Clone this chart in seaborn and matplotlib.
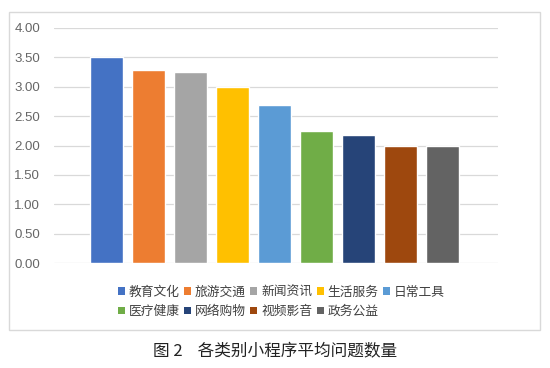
import matplotlib
matplotlib.use("Agg")
import matplotlib.pyplot as plt
from matplotlib.patches import Patch, Rectangle
import seaborn as sns

# ─────────────────────────────────────────────
# DATI
# ─────────────────────────────────────────────
categorie = ["教育文化", "旅游交通", "新闻资讯", "生活服务", "日常工具",
             "医疗健康", "网络购物", "视频影音", "政务公益"]
valori = [3.50, 3.28, 3.25, 3.00, 2.69, 2.25, 2.18, 2.00, 2.00]
colori = ["#4472C4", "#ED7D31", "#A5A5A5", "#FFC000", "#5B9BD5",
          "#70AD47", "#264478", "#9E480E", "#636363"]
yticks = [0.0, 0.5, 1.0, 1.5, 2.0, 2.5, 3.0, 3.5, 4.0]
titolo = "图 2    各类别小程序平均问题数量"

sns.set_theme(style="white")
plt.rcParams["font.family"] = ["Noto Sans CJK SC", "DejaVu Sans"]

fig = plt.figure(figsize=(5.5, 3.68), dpi=100)
ax = fig.add_axes([0.098, 0.285, 0.807, 0.639])

sns.barplot(x=categorie, y=valori, hue=categorie, palette=colori,
            width=0.79, saturation=1, legend=False, ax=ax, zorder=3)

ax.set_xlim(-1.26, 9.31)
ax.set_ylim(0, 4)
ax.set_yticks(yticks)
ax.set_yticklabels([f"{v:.2f}" for v in yticks], fontsize=9.5, color="#666666",
                   family="Liberation Sans")
ax.set_xticks([])
ax.tick_params(axis="y", length=0, pad=10)
ax.grid(axis="y", color="#D9D9D9", linewidth=0.9, zorder=0)
for s in ax.spines.values():
    s.set_visible(False)

# legenda con quadratini, riempita per righe (matplotlib riempie per colonne)
ordine = [0, 5, 1, 6, 2, 7, 3, 8, 4]
handles = [Patch(facecolor=colori[i], edgecolor="none") for i in ordine]
etichette = [categorie[i] for i in ordine]
fig.legend(handles, etichette, ncol=5, loc="upper left",
           bbox_to_anchor=(0.193, 0.255), frameon=False,
           handlelength=0.55, handleheight=0.55, handletextpad=0.3,
           columnspacing=0.35, labelspacing=0.5,
           prop={"family": "Noto Sans CJK SC", "size": 9.2}, labelcolor="#404040")

# cornice del grafico
fig.patches.append(Rectangle((0.016, 0.103), 0.965, 0.864, transform=fig.transFigure,
                             fill=False, edgecolor="#D9D9D9", linewidth=1))

fig.text(0.5, 0.043, titolo, ha="center", va="center", fontsize=12, color="#222222")

fig.savefig("out.png", dpi=100)
